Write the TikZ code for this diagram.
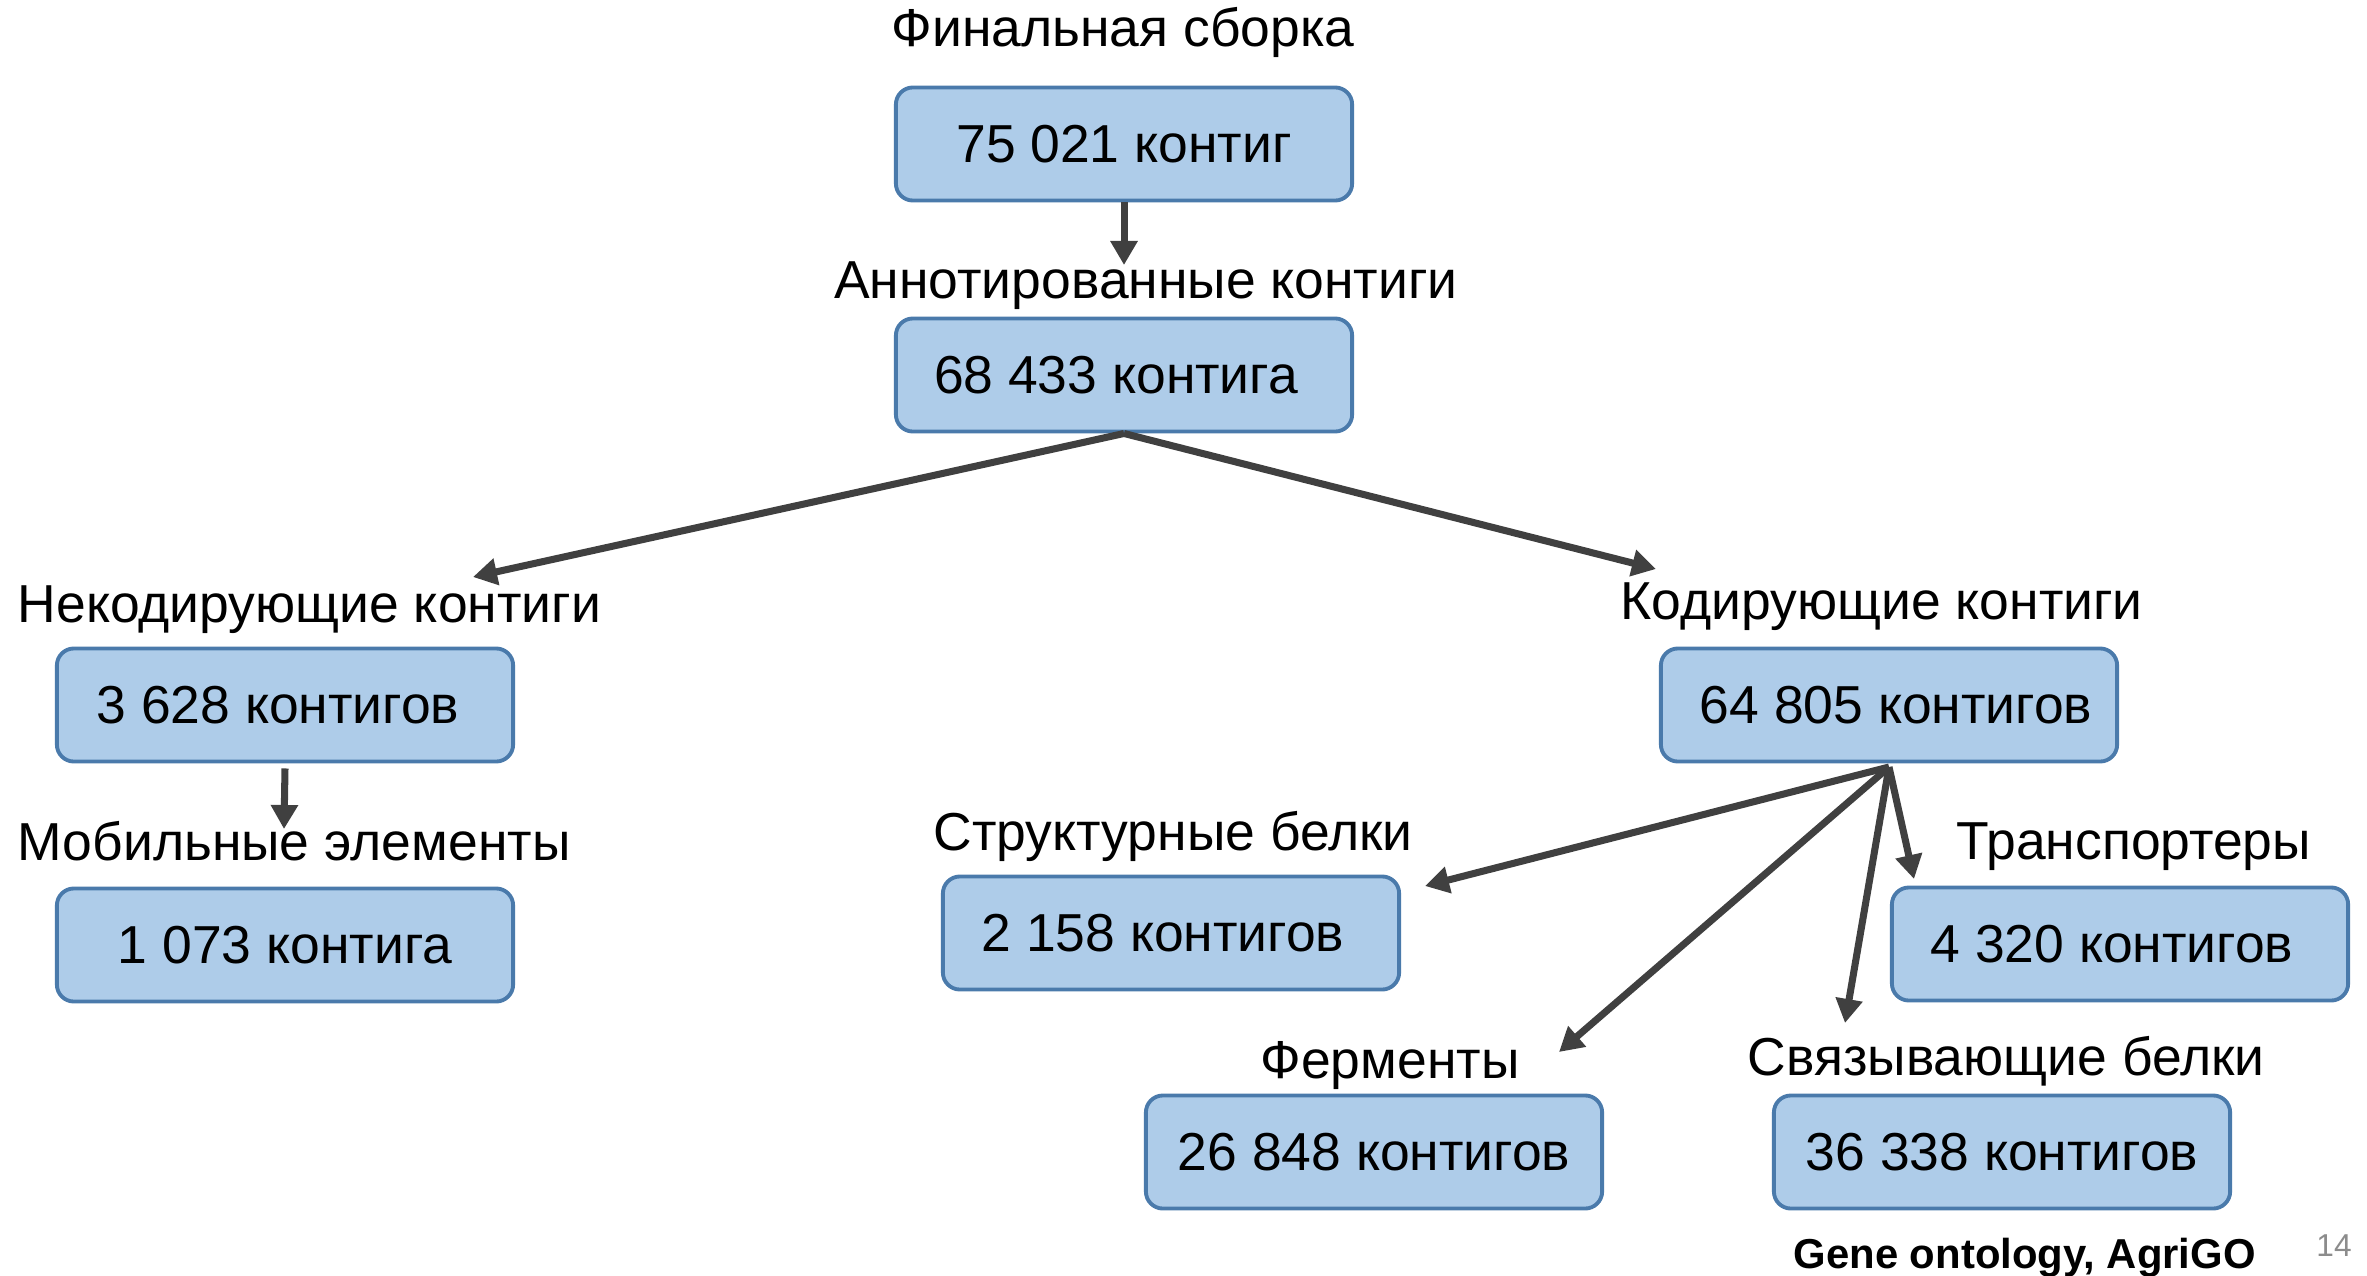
\documentclass[tikz,border=0pt]{standalone}
\usepackage{fontspec}
\setmainfont{Liberation Sans}
\usetikzlibrary{arrows.meta}
\definecolor{boxfill}{HTML}{AECCE9}
\definecolor{boxline}{HTML}{4A7AAB}
\definecolor{arrowgray}{HTML}{404040}
\definecolor{pagenum}{HTML}{8C8C8C}
% nudge a box text sideways by #1 (negative = left)
\newcommand{\nudge}[1]{\hspace*{#1}\hspace*{#1}}

\begin{document}
\begin{tikzpicture}[x=0.01cm,y=-0.01cm,
  countbox/.style={draw=boxline, fill=boxfill, line width=1.1pt,
    rounded corners=0.17cm, minimum width=4.56cm, minimum height=1.13cm,
    inner sep=0pt, font=\fontsize{15.2}{18}\selectfont},
  caption/.style={inner sep=0pt, font=\fontsize{15.2}{18}\selectfont},
  flow/.style={draw=arrowgray, line width=2pt,
    -{Triangle[length=0.24cm,width=0.26cm]}}]
\useasboundingbox (0,0) rectangle (2367,1276);

% count boxes
\node[countbox] (total)   at (1124,144)  {75 021 контиг};
\node[countbox] (annot)   at (1124,375)  {\nudge{-0.08cm}68 433 контига};
\node[countbox] (noncod)  at (285,705)   {\nudge{-0.07cm}3 628 контигов};
\node[countbox] (mobile)  at (285,945)   {1 073 контига};
\node[countbox] (coding)  at (1889,705)  {64 805 контигов\nudge{-0.07cm}};
\node[countbox] (struct)  at (1171,933)  {\nudge{-0.08cm}2 158 контигов};
\node[countbox] (transp)  at (2120,944)  {\nudge{-0.08cm}4 320 контигов};
\node[countbox] (enzyme)  at (1374,1152) {26 848 контигов};
\node[countbox] (binding) at (2002,1152) {36 338 контигов};

% captions above the boxes
\node[caption, anchor=base] (tTotal) at (1123,47) {Финальная сборка};
\node[caption, anchor=base] (tAnnot) at (1146,298) {Аннотированные контиги};
\node[caption, anchor=base west] (tNoncod) at (17,622) {Некодирующие контиги};
\node[caption, anchor=base west] (tMobile) at (17,860) {Мобильные элементы};
\node[caption, anchor=base west] (tCoding) at (1620,619) {Кодирующие контиги};
\node[caption, anchor=base west] (tStruct) at (933,850) {Структурные белки};
\node[caption, anchor=base west] (tTransp) at (1956,859) {Транспортеры};
\node[caption, anchor=base] (tEnzyme) at (1390,1078) {Ферменты};
\node[caption, anchor=base west] (tBinding) at (1747,1075) {Связывающие белки};

% source note and slide number
\node[inner sep=0pt, anchor=base west, font=\bfseries\fontsize{11.9}{14}\selectfont] (src) at (1793,1268) {Gene ontology, AgriGO};
\node[inner sep=0pt, anchor=base, text=pagenum, font=\fontsize{9}{11}\selectfont] (pnum) at (2334,1256) {14};

% arrow end points
\coordinate (pAnnot)   at (1124,265);
\coordinate (pNoncod)  at (473,577);
\coordinate (pCoding)  at (1656,569);
\coordinate (pMobile)  at (284,829);
\coordinate (hub)      at (1889,767);
\coordinate (pStruct)  at (1425,886);
\coordinate (pEnzyme)  at (1559,1052);
\coordinate (pBinding) at (1845,1023);
\coordinate (pTransp)  at (1914,879);

% connectors
\draw[flow] (total.south) -- (pAnnot);
\draw[flow] (annot.south) -- (pNoncod);
\draw[flow] (annot.south) -- (pCoding);
\draw[flow] ([yshift=-0.05cm]noncod.south) -- (pMobile);
\draw[flow] (hub) -- (pStruct);
\draw[flow] (hub) -- (pEnzyme);
\draw[flow] (hub) -- (pBinding);
\draw[flow] (hub) -- (pTransp);
\end{tikzpicture}
\end{document}
